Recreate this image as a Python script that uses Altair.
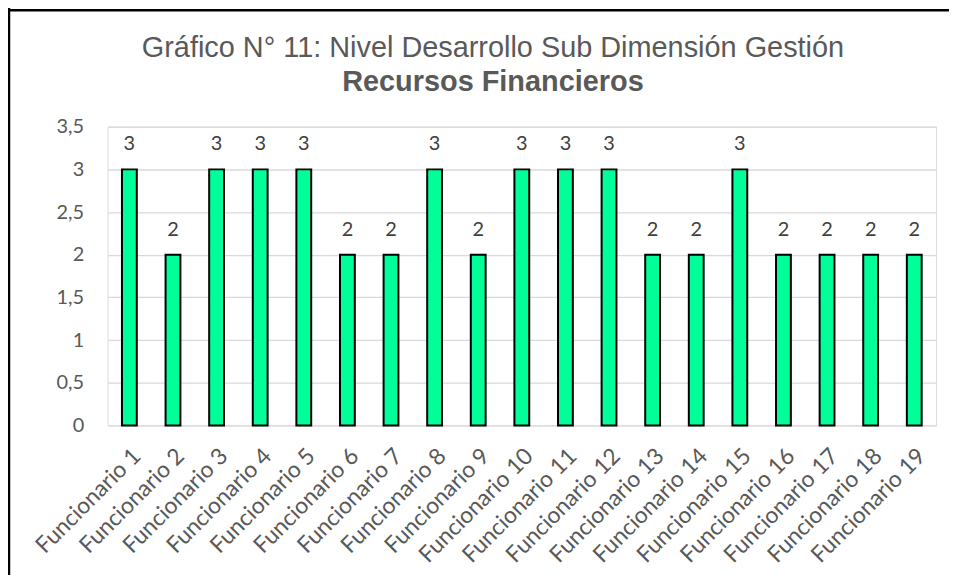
import altair as alt
import pandas as pd

categories = [f"Funcionario {i}" for i in range(1, 20)]
values = [3, 2, 3, 3, 3, 2, 2, 3, 2, 3, 3, 3, 2, 2, 3, 2, 2, 2, 2]
y_ticks = [0, 0.5, 1, 1.5, 2, 2.5, 3, 3.5]
title_lines = ["Gráfico N° 11: Nivel Desarrollo Sub Dimensión Gestión", "Recursos Financieros"]

df = pd.DataFrame({"cat": categories, "val": values})

W, H = 832, 300
PL, PT, PR, PB = 100, 118, 14, 149

x = alt.X("cat:N", sort=categories, title=None,
          scale=alt.Scale(paddingInner=0.66, paddingOuter=0.33),
          axis=alt.Axis(labelAngle=-45, labelFont="Lato", labelFontSize=23,
                        labelColor="#595959", ticks=False, domain=False,
                        labelPadding=19, labelAlign="right", labelBaseline="top"))
y = alt.Y("val:Q", title=None,
          scale=alt.Scale(domain=[0, 3.5]),
          axis=alt.Axis(values=y_ticks, format=",.1~f", labelExpr="replace(datum.label, '.', ',')",
                        labelFont="Lato", labelFontSize=20, labelColor="#595959",
                        ticks=False, domain=False, labelPadding=24,
                        gridColor="#d9d9d9", gridWidth=1.3))

base = alt.Chart(df)
bars = base.mark_bar(color="#00FF99", stroke="#000000", strokeWidth=2).encode(x=x, y=y)
labels = base.mark_text(dy=-25, font="Lato", fontSize=20, color="#404040",
                        baseline="middle").encode(x=x, y=y, text="val:Q")

t1 = alt.Chart(pd.DataFrame({"t": [title_lines[0]]})).mark_text(
    font="Liberation Sans", fontSize=29, color="#595959", baseline="middle", align="center"
).encode(text="t:N", x=alt.value(387), y=alt.value(-79))
t2 = alt.Chart(pd.DataFrame({"t": [title_lines[1]]})).mark_text(
    font="Liberation Sans", fontSize=29, fontWeight="bold", color="#595959", baseline="middle", align="center"
).encode(text="t:N", x=alt.value(387), y=alt.value(-45))

border_left = alt.Chart(pd.DataFrame({"a": [0]})).mark_rule(color="#000000", strokeWidth=2.5).encode(
    x=alt.value(-PL + 1), y=alt.value(-PT - 2), y2=alt.value(H + PB + 10))
border_top = alt.Chart(pd.DataFrame({"a": [0]})).mark_rule(color="#000000", strokeWidth=2.5).encode(
    x=alt.value(-PL + 1), x2=alt.value(W + 13), y=alt.value(-PT + 1))

chart = alt.layer(bars, labels, t1, t2, border_left, border_top).properties(
    width=W, height=H,
    autosize=alt.AutoSizeParams(type="none"),
    padding={"left": PL, "top": PT, "right": PR, "bottom": PB},
).configure_view(strokeWidth=0).configure(background="#ffffff")

chart.save("out.html", embed_options={"renderer": "svg", "actions": False})
